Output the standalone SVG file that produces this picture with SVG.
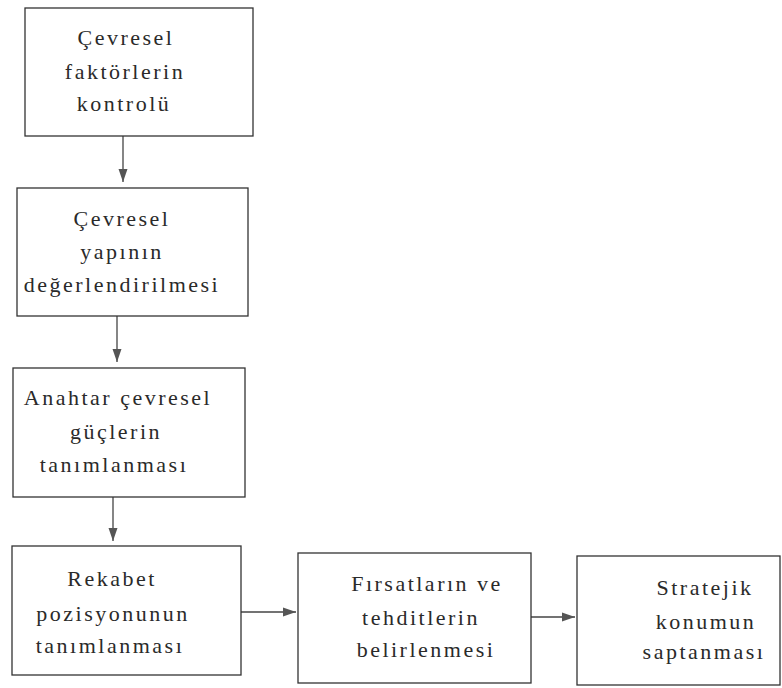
<svg xmlns="http://www.w3.org/2000/svg" width="782" height="688" viewBox="0 0 782 688">
<style>
.box{fill:#fff;stroke:#333;stroke-width:1.3}
.t{font-family:'Liberation Serif','DejaVu Serif',serif;font-size:22px;letter-spacing:2.5px;fill:#2a2a2a;text-anchor:middle}
.c{stroke:#444;stroke-width:1.3;fill:none}
</style>
<defs>
<marker id="ah" markerUnits="userSpaceOnUse" markerWidth="14" markerHeight="12" viewBox="0 0 14 12" refX="13" refY="6" orient="auto">
<path d="M0,1.5 L13,6 L0,10.5 Z" fill="#555"/>
</marker>
</defs>
<rect width="782" height="688" fill="#fff"/>
<g id="connectors">
<line class="c" x1="123" y1="136" x2="123" y2="182" marker-end="url(#ah)"/>
<line class="c" x1="117" y1="316" x2="117" y2="362" marker-end="url(#ah)"/>
<line class="c" x1="113" y1="497" x2="113" y2="541" marker-end="url(#ah)"/>
<line class="c" x1="241" y1="612" x2="296" y2="612" marker-end="url(#ah)"/>
<line class="c" x1="531" y1="617" x2="575" y2="617" marker-end="url(#ah)"/>
</g>
<g id="n1">
<rect class="box" x="25" y="8" width="228" height="128"/>
<text class="t" x="126" y="45">Çevresel</text>
<text class="t" x="125" y="79">faktörlerin</text>
<text class="t" x="124" y="111">kontrolü</text>
</g>
<g id="n2">
<rect class="box" x="17" y="188" width="231" height="128"/>
<text class="t" x="122" y="226">Çevresel</text>
<text class="t" x="122" y="259">yapının</text>
<text class="t" x="122" y="292">değerlendirilmesi</text>
</g>
<g id="n3">
<rect class="box" x="13" y="368" width="232" height="129"/>
<text class="t" x="118" y="405">Anahtar çevresel</text>
<text class="t" x="116" y="439">güçlerin</text>
<text class="t" x="114" y="472">tanımlanması</text>
</g>
<g id="n4">
<rect class="box" x="12" y="546" width="229" height="129"/>
<text class="t" x="112" y="586">Rekabet</text>
<text class="t" x="113" y="621">pozisyonunun</text>
<text class="t" x="110" y="653">tanımlanması</text>
</g>
<g id="n5">
<rect class="box" x="298" y="553" width="233" height="130"/>
<text class="t" x="427" y="591">Fırsatların ve</text>
<text class="t" x="421" y="625">tehditlerin</text>
<text class="t" x="426" y="657">belirlenmesi</text>
</g>
<g id="n6">
<rect class="box" x="577" y="556" width="203" height="129"/>
<text class="t" x="705" y="595">Stratejik</text>
<text class="t" x="706" y="629">konumun</text>
<text class="t" x="704" y="659">saptanması</text>
</g>
</svg>
